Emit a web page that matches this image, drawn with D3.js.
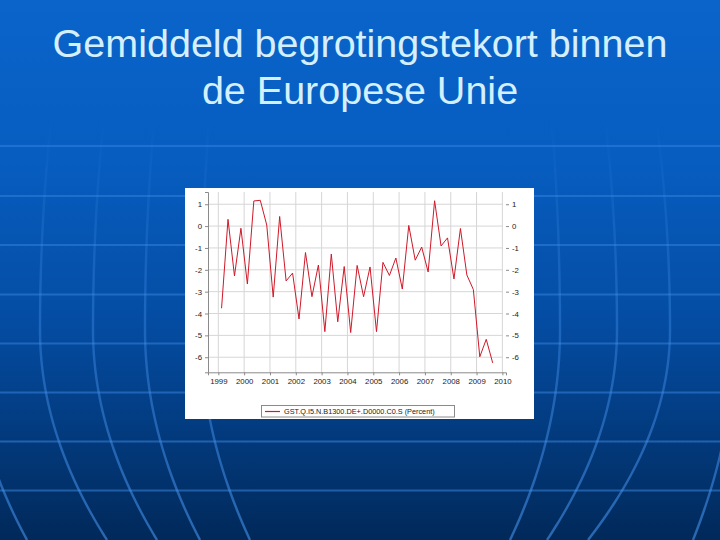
<!DOCTYPE html>
<html>
<head>
<meta charset="utf-8">
<script src="https://cdn.jsdelivr.net/npm/d3@7"></script>
<style>
  html, body { margin: 0; padding: 0; background: #003070; }
  svg { display: block; }
</style>
</head>
<body>
<div id="chart"></div>
<script>
// ---- data (quarterly, 1999Q1 .. 2009Q3) ----
const startYear = 1999;
const deficitValues = [
  -3.76, 0.31, -2.28, -0.10,
  -2.65, 1.15, 1.18, 0.05,
  -3.25, 0.44, -2.51, -2.15,
  -4.25, -1.21, -3.23, -1.78,
  -4.83, -1.28, -4.38, -1.85,
  -4.87, -1.80, -3.23, -1.87,
  -4.83, -1.66, -2.26, -1.46,
  -2.88, 0.03, -1.56, -0.96,
  -2.10, 1.16, -0.91, -0.54,
  -2.42, -0.11, -2.24, -2.90,
  -5.98, -5.18, -6.26
];
const yearTicks = [1999, 2000, 2001, 2002, 2003, 2004, 2005, 2006, 2007, 2008, 2009, 2010];
const valueTicks = [1, 0, -1, -2, -3, -4, -5, -6];
const titleLines = ["Gemiddeld begrotingstekort binnen", "de Europese Unie"];
const legendLabel = "GST.Q.I5.N.B1300.DE+.D0000.C0.S (Percent)";

// ---- decoration parameters (globe grid in slide background) ----
const parallelsY = [146, 196, 245, 294.5, 343.5, 392.5, 441.5, 490.5];
const meridians = [[-30, 27], [40, 107], [93, 157], [145, 200], [201, 250],
                   [560, 510], [617, 547], [670, 588], [735, 693]];

const W = 720, H = 540;
const svg = d3.select("#chart").append("svg").attr("width", W).attr("height", H);
const defs = svg.append("defs");

const bg = defs.append("linearGradient").attr("id", "bg")
  .attr("x1", 0).attr("y1", 0).attr("x2", 0).attr("y2", 1);
[[0, "#0a64ca"], [0.3, "#075dc0"], [0.6, "#044ca2"], [1, "#01295a"]]
  .forEach(([o, c]) => bg.append("stop").attr("offset", o).attr("stop-color", c));

const pg = defs.append("linearGradient").attr("id", "parGrad")
  .attr("gradientUnits", "userSpaceOnUse")
  .attr("x1", 0).attr("y1", 130).attr("x2", 0).attr("y2", 540);
[[0, 0.4], [1, 0.5]].forEach(([o, a]) =>
  pg.append("stop").attr("offset", o).attr("stop-color", "#3f8ce8").attr("stop-opacity", a));

const mg = defs.append("linearGradient").attr("id", "merGrad")
  .attr("gradientUnits", "userSpaceOnUse")
  .attr("x1", 0).attr("y1", 120).attr("x2", 0).attr("y2", 540);
[[0, 0], [0.15, 0.12], [0.45, 0.35], [1, 0.6]].forEach(([o, a]) =>
  mg.append("stop").attr("offset", o).attr("stop-color", "#4592ec").attr("stop-opacity", a));

svg.append("rect").attr("width", W).attr("height", H).attr("fill", "url(#bg)");

const deco = svg.append("g").attr("fill", "none");
deco.selectAll("line.par").data(parallelsY).join("line")
  .attr("x1", 0).attr("x2", W).attr("y1", d => d).attr("y2", d => d)
  .attr("stroke", "url(#parGrad)")
  .attr("stroke-width", 2.2);

const meridianLine = d3.line().curve(d3.curveBasis);
deco.selectAll("path.mer").data(meridians).join("path")
  .attr("stroke", "url(#merGrad)")
  .attr("stroke-width", 2.4)
  .attr("d", ([xe, xb]) => {
    const pts = d3.range(120, 545, 5).map(y => {
      const x = y >= 330
        ? xe + (xb - xe) * Math.pow((y - 330) / 210, 2)
        : xe + (xb - xe) * 0.15 * Math.pow((330 - y) / 200, 2);
      return [x, y];
    });
    return meridianLine(pts);
  });

// ---- title ----
svg.append("g").selectAll("text").data(titleLines).join("text")
  .attr("x", 360).attr("y", (d, i) => 57 + i * 47)
  .attr("text-anchor", "middle")
  .attr("font-family", "'Liberation Sans', Arial, sans-serif")
  .attr("font-size", 39.5)
  .attr("fill", "#d4f0ff")
  .text(d => d);

// ---- chart panel ----
const panel = { x: 185, y: 188, w: 349, h: 231 };
svg.append("rect").attr("x", panel.x).attr("y", panel.y)
  .attr("width", panel.w).attr("height", panel.h).attr("fill", "#ffffff");

const plot = { left: 208, right: 506, top: 192, bottom: 372.3 };
const x = d3.scaleLinear().domain([1998.6, 2010.14]).range([plot.left, plot.right]);
const y = d3.scaleLinear().domain([-6.69, 1.56]).range([plot.bottom, plot.top]);

const g = svg.append("g");

// grid
g.append("g").selectAll("line").data(yearTicks).join("line")
  .attr("x1", d => x(d)).attr("x2", d => x(d))
  .attr("y1", plot.top).attr("y2", plot.bottom)
  .attr("stroke", "#d6d6d6").attr("stroke-width", 1);
g.append("g").selectAll("line").data(valueTicks).join("line")
  .attr("x1", plot.left).attr("x2", plot.right - 3)
  .attr("y1", d => y(d)).attr("y2", d => y(d))
  .attr("stroke", "#d6d6d6").attr("stroke-width", 1);

const axisFont = "'Liberation Sans', Arial, sans-serif";

// left axis
const leftAxis = g.append("g").attr("transform", `translate(${plot.left},0)`)
  .call(d3.axisLeft(y).tickValues(valueTicks).tickSize(3).tickPadding(3)
    .tickFormat(d => String(d)));
leftAxis.select(".domain").attr("stroke", "#8a8a8a");
leftAxis.selectAll(".tick line").attr("stroke", "#8a8a8a");
leftAxis.selectAll("text").attr("font-family", axisFont).attr("font-size", 7.8).attr("fill", "#222");

// right axis (ticks only)
const rightAxis = g.append("g").attr("transform", `translate(${plot.right},0)`)
  .call(d3.axisRight(y).tickValues(valueTicks).tickSize(3).tickPadding(3)
    .tickFormat(d => String(d)));
rightAxis.select(".domain").remove();
rightAxis.selectAll(".tick line").attr("stroke", "#8a8a8a");
rightAxis.selectAll("text").attr("font-family", axisFont).attr("font-size", 7.8).attr("fill", "#222");

// bottom axis
const bottomAxis = g.append("g").attr("transform", `translate(0,${plot.bottom})`)
  .call(d3.axisBottom(x).tickValues(yearTicks).tickSize(3).tickPadding(3)
    .tickFormat(d3.format("d")));
bottomAxis.select(".domain").attr("stroke", "#8a8a8a");
bottomAxis.selectAll(".tick line").attr("stroke", "#8a8a8a");
bottomAxis.selectAll("text").attr("font-family", axisFont).attr("font-size", 7.8).attr("fill", "#222");

// series line
const line = d3.line()
  .x((d, i) => x(startYear + i * 0.25 + 0.125))
  .y(d => y(d));
g.append("path").datum(deficitValues)
  .attr("d", line)
  .attr("fill", "none")
  .attr("stroke", "#d01828")
  .attr("stroke-width", 1)
  .attr("stroke-linejoin", "miter");

// legend
const leg = svg.append("g").attr("transform", "translate(261,405)");
leg.append("rect").attr("x", 0.5).attr("y", 0.5).attr("width", 193).attr("height", 11.5)
  .attr("fill", "#fff").attr("stroke", "#8a8a8a").attr("stroke-width", 1);
leg.append("line").attr("x1", 4).attr("x2", 19).attr("y1", 6.5).attr("y2", 6.5)
  .attr("stroke", "#d01828").attr("stroke-width", 1.2);
leg.append("text").attr("x", 23).attr("y", 9.2)
  .attr("font-family", axisFont).attr("font-size", 7.3).attr("fill", "#222")
  .text(legendLabel);
</script>
</body>
</html>
